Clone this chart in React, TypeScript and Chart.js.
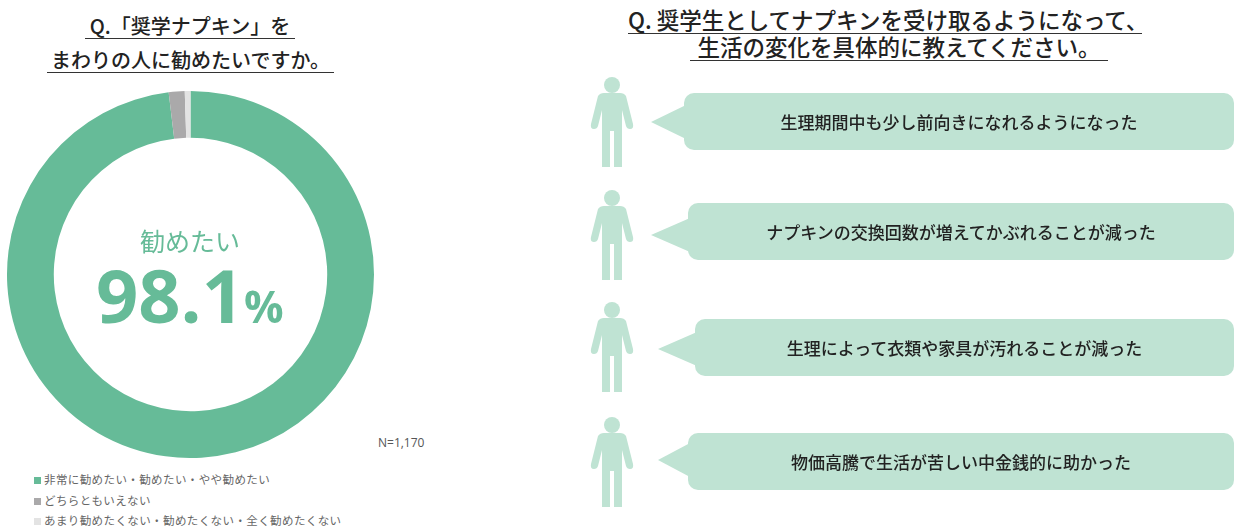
import React, { useEffect, useRef } from "react";
import { Chart, registerables } from "chart.js";

Chart.register(...registerables);

const categories = [
  "非常に勧めたい・勧めたい・やや勧めたい",
  "どちらともいえない",
  "あまり勧めたくない・勧めたくない・全く勧めたくない",
];
const shares = [98.1, 1.4, 0.5];
const sliceColors = ["#66bb98", "#aaa9aa", "#e3e3e3"];
const centerLabel = "勧めたい";
const centerValue = "98.1";
const sampleNote = "N=1,170";
const leftTitle = ["Q.「奨学ナプキン」を", "まわりの人に勧めたいですか。"];
const rightTitle = ["Q. 奨学生としてナプキンを受け取るようになって、", "生活の変化を具体的に教えてください。"];
const comments = [
  "生理期間中も少し前向きになれるようになった",
  "ナプキンの交換回数が増えてかぶれることが減った",
  "生理によって衣類や家具が汚れることが減った",
  "物価高騰で生活が苦しい中金銭的に助かった",
];

const FONT = '"Noto Sans CJK JP", "Noto Sans", sans-serif';
const MINT = "#bfe3d3";

// Per-row geometry of the speech bubbles and figures
const rows = [
  { personX: 612, personY: 77, tipX: 651, boxX: 684, boxY: 93, boxH: 57, tipY: 122 },
  { personX: 612, personY: 190, tipX: 651, boxX: 688, boxY: 203, boxH: 57, tipY: 235 },
  { personX: 612, personY: 302, tipX: 658, boxX: 695, boxY: 319, boxH: 57, tipY: 349 },
  { personX: 612, personY: 417, tipX: 658, boxX: 688, boxY: 433, boxH: 57, tipY: 460 },
];

function Person({ x, y }: { x: number; y: number }) {
  return (
    <g transform={`translate(${x} ${y})`} fill={MINT}>
      <circle cx={0} cy={8} r={8} />
      <path d="M-14 19 Q-12 16 -8 16 L8 16 Q12 16 14 19 L21 47 Q22 52 18 52 Q15 52 14 49 L10 33 L10 90 L2 90 L2 54 L-2 54 L-2 90 L-10 90 L-10 33 L-14 49 Q-15 52 -18 52 Q-22 52 -21 47 Z" />
    </g>
  );
}

function Title({ text, left, top, width, size }: { text: string; left: number; top: number; width: number; size: number }) {
  return (
    <div
      style={{
        position: "absolute",
        left,
        top,
        width,
        textAlign: "center",
        fontSize: size,
        fontWeight: 500,
        color: "#222",
        lineHeight: `${size + 4}px`,
        whiteSpace: "nowrap",
        borderBottom: "1.5px solid #333",
      }}
    >
      {text}
    </div>
  );
}

export default function App() {
  const ref = useRef<HTMLCanvasElement>(null);

  useEffect(() => {
    document.body.style.margin = "0";
    const chart = new Chart(ref.current!, {
      type: "doughnut",
      data: {
        labels: categories,
        datasets: [{ data: shares, backgroundColor: sliceColors, borderWidth: 0 }],
      },
      options: {
        animation: false,
        responsive: false,
        cutout: "74.5%",
        layout: { padding: 0 },
        plugins: { legend: { display: false }, tooltip: { enabled: false } },
      },
    });
    return () => chart.destroy();
  }, []);

  return (
    <div style={{ position: "relative", width: 1236, height: 530, overflow: "hidden", background: "#fff", fontFamily: FONT }}>
      <canvas ref={ref} width={367} height={367} style={{ position: "absolute", left: 7, top: 91, width: 367, height: 367 }} />

      <Title text={leftTitle[0]} left={85} top={14} width={210} size={20} />
      <Title text={leftTitle[1]} left={47} top={48} width={287} size={20} />

      <div style={{ position: "absolute", left: 90, width: 200, top: 222, textAlign: "center", fontSize: 25, color: "#66bb98", lineHeight: "36px" }}>
        {centerLabel}
      </div>
      <div style={{ position: "absolute", left: 96, top: 252, fontSize: 74, fontWeight: 700, color: "#66bb98", lineHeight: "86px", fontFamily: '"Open Sans", sans-serif', whiteSpace: "nowrap" }}>
        {centerValue}
        <span style={{ fontSize: 44 }}>%</span>
      </div>

      <div style={{ position: "absolute", left: 378, top: 435, fontSize: 12, color: "#555", lineHeight: "16px", fontFamily: '"Open Sans", sans-serif' }}>{sampleNote}</div>

      {categories.map((c, i) => (
        <div key={c} style={{ position: "absolute", left: 34, top: 471 + i * 20.5, fontSize: 11.5, color: "#666", lineHeight: "16px", whiteSpace: "nowrap", letterSpacing: 0.4 }}>
          <span style={{ display: "inline-block", width: 7, height: 7, background: sliceColors[i], marginRight: 3, verticalAlign: 0 }} />
          {c}
        </div>
      ))}

      <Title text={rightTitle[0]} left={628} top={6} width={514} size={22.5} />
      <Title text={rightTitle[1]} left={690} top={33} width={418} size={22.5} />

      <svg width={1236} height={530} style={{ position: "absolute", left: 0, top: 0, pointerEvents: "none" }}>
        {rows.map((r, i) => (
          <g key={i}>
            <Person x={r.personX} y={r.personY} />
            <rect x={r.boxX} y={r.boxY} width={1234 - r.boxX} height={r.boxH} rx={10} fill={MINT} />
            <path d={`M${r.tipX} ${r.tipY} L${r.boxX + 2} ${r.tipY - 17} L${r.boxX + 2} ${r.tipY + 17} Z`} fill={MINT} />
          </g>
        ))}
      </svg>

      {comments.map((c, i) => (
        <div
          key={c}
          style={{
            position: "absolute",
            left: rows[i].boxX,
            width: 1234 - rows[i].boxX,
            top: rows[i].boxY,
            height: rows[i].boxH,
            lineHeight: `${rows[i].boxH}px`,
            textAlign: "center",
            fontSize: 17,
            fontWeight: 500,
            color: "#222",
            whiteSpace: "nowrap",
          }}
        >
          {c}
        </div>
      ))}
    </div>
  );
}
